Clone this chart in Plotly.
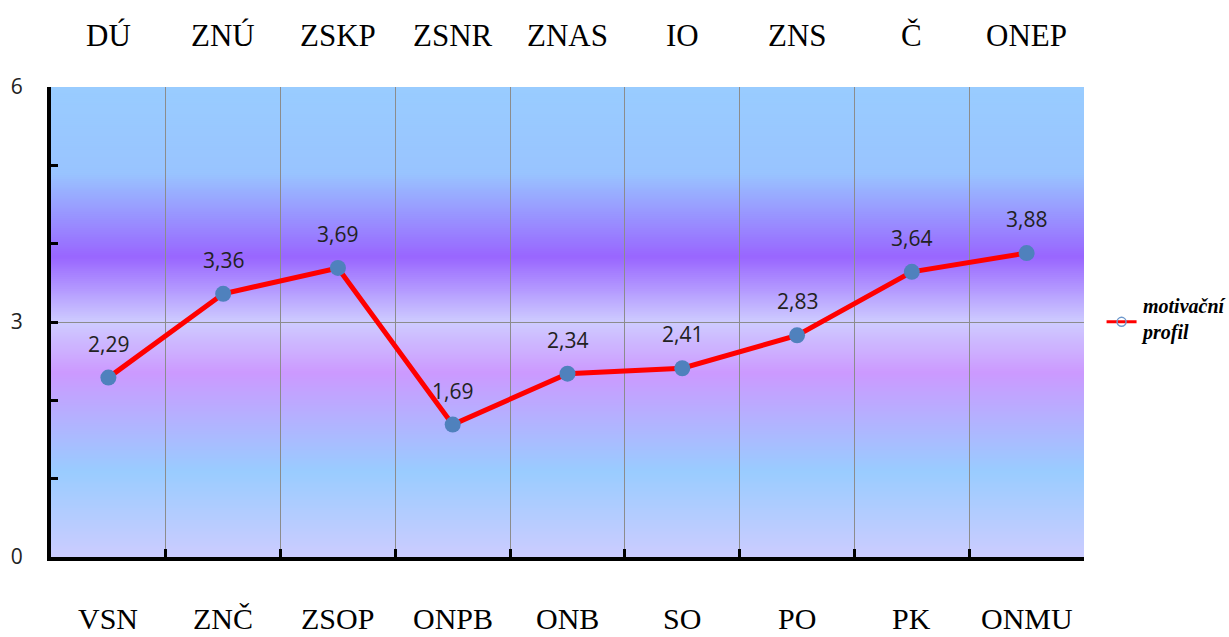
import numpy as np
import plotly.graph_objects as go

# categories (bottom row) and their paired labels (top row)
bottom_labels = ["VSN", "ZNČ", "ZSOP", "ONPB", "ONB", "SO", "PO", "PK", "ONMU"]
top_labels = ["DÚ", "ZNÚ", "ZSKP", "ZSNR", "ZNAS", "IO", "ZNS", "Č", "ONEP"]
values = [2.29, 3.36, 3.69, 1.69, 2.34, 2.41, 2.83, 3.64, 3.88]
series_lines = ["motivační", "profil"]
y_tick_values = [0, 3, 6]
y_minor_ticks = [1, 2, 4, 5]

Y_MIN, Y_MAX = 0, 6
serif = "Liberation Serif"

# vertical background gradient for the plot area (value -> rgb)
grad_stops = [
    (0.0, (204, 204, 255)),
    (1.1, (153, 204, 255)),
    (2.35, (204, 153, 255)),
    (3.0, (206, 204, 255)),
    (3.83, (153, 102, 255)),
    (4.9, (153, 196, 255)),
    (6.0, (153, 204, 255)),
]
gs_pos = np.array([s[0] for s in grad_stops])
gs_rgb = np.array([s[1] for s in grad_stops], dtype=float)

n_bands = 240
edges = np.linspace(Y_MIN, Y_MAX, n_bands + 1)
band_h = edges[1] - edges[0]
shapes = []
for i in range(n_bands):
    mid = (edges[i] + edges[i + 1]) / 2
    r, g, b = (np.interp(mid, gs_pos, gs_rgb[:, k]) for k in range(3))
    shapes.append(dict(
        type="rect", layer="below", xref="paper", yref="y",
        x0=0, x1=1, y0=edges[i], y1=min(edges[i + 1] + band_h * 0.6, Y_MAX),
        fillcolor=f"rgb({r:.0f},{g:.0f},{b:.0f})", line=dict(width=0),
    ))

fig = go.Figure()

fig.add_trace(go.Scatter(
    x=bottom_labels, y=values, mode="lines+markers",
    line=dict(color="#FF0000", width=5),
    marker=dict(size=16, color="#4F81BD"),
    showlegend=False, cliponaxis=False, hoverinfo="x+y",
))

# legend key: red line with hollow marker (its caption is an annotation below)
fig.add_trace(go.Scatter(
    x=[None], y=[None], mode="lines+markers", name=" ",
    line=dict(color="#FF0000", width=3),
    marker=dict(symbol="circle-open", size=9, color="#6E98CC", line=dict(width=1.5)),
))

annotations = []
for cat, lab in zip(bottom_labels, top_labels):
    annotations.append(dict(x=cat, y=1, xref="x", yref="paper", text=lab,
                            showarrow=False, yanchor="middle", yshift=52,
                            font=dict(family=serif, size=31, color="black")))
    annotations.append(dict(x=cat, y=0, xref="x", yref="paper", text=cat,
                            showarrow=False, yanchor="middle", yshift=-61,
                            font=dict(family=serif, size=30, color="black")))
for cat, v in zip(bottom_labels, values):
    annotations.append(dict(x=cat, y=v, xref="x", yref="y",
                            text=f"{v:.2f}".replace(".", ","),
                            showarrow=False, yanchor="middle", yshift=34,
                            font=dict(family="Open Sans", size=21, color="#222")))

# legend caption
annotations.append(dict(
    x=1.053, y=0.505, xref="paper", yref="paper", xanchor="left", yanchor="middle",
    align="left", showarrow=False,
    text="<br>".join(f"<b><i>{t}</i></b>" for t in series_lines),
    font=dict(family=serif, size=20, color="black"),
))

fig.update_layout(
    width=1229, height=637,
    margin=dict(l=51, r=145, t=87, b=80, autoexpand=False),
    paper_bgcolor="white", plot_bgcolor="white",
    shapes=shapes, annotations=annotations,
    xaxis=dict(
        type="category", categoryorder="array", categoryarray=bottom_labels,
        range=[-0.5, len(bottom_labels) - 0.5], tickson="boundaries",
        showgrid=True, gridcolor="#8C8C8C", gridwidth=1,
        showline=True, linecolor="black", linewidth=4,
        ticks="inside", ticklen=8, tickwidth=3, tickcolor="black",
        showticklabels=False, fixedrange=True,
    ),
    yaxis=dict(
        range=[Y_MIN, Y_MAX], tickmode="array", tickvals=y_tick_values,
        showgrid=True, gridcolor="#8C8C8C", gridwidth=1, zeroline=False,
        showline=True, linecolor="black", linewidth=4,
        ticks="inside", ticklen=7, tickwidth=3, tickcolor="black",
        minor=dict(tickmode="array", tickvals=y_minor_ticks, ticks="inside",
                   ticklen=7, tickwidth=3, tickcolor="black", showgrid=False),
        tickfont=dict(family="Open Sans", size=21, color="#222"),
        ticklabelstandoff=20, fixedrange=True,
    ),
    legend=dict(
        x=1.017, y=0.5, xanchor="left", yanchor="middle",
        bgcolor="rgba(0,0,0,0)",
        font=dict(family=serif, size=19, color="black"),
    ),
)

fig.write_html("out.html")
